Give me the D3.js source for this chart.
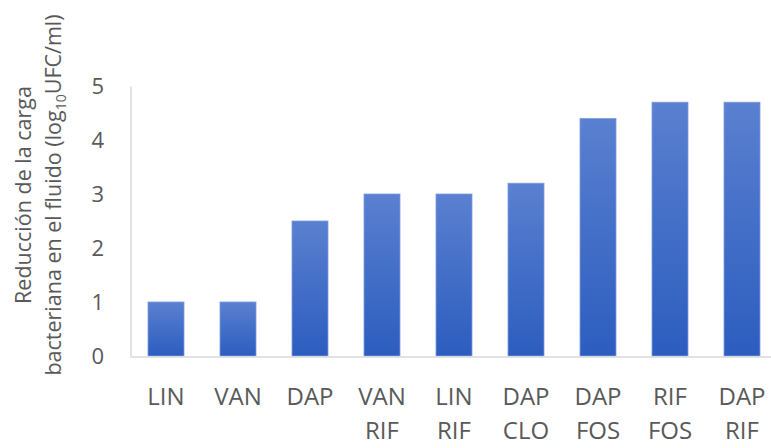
<!DOCTYPE html>
<html>
<head>
<meta charset="utf-8">
<script src="https://cdn.jsdelivr.net/npm/d3@7"></script>
<style>
  body { margin: 0; background: #fff; overflow: hidden; }
  svg { display: block; font-family: "Open Sans", sans-serif; }
  .axis text { fill: #595959; }
</style>
</head>
<body>
<svg id="chart" width="771" height="448"></svg>
<script>
// categories (two-line labels) and values
const categories = ["LIN", "VAN", "DAP", "VAN RIF", "LIN RIF", "DAP CLO", "DAP FOS", "RIF FOS", "DAP RIF"];
const values = [1.0, 1.0, 2.5, 3.0, 3.0, 3.2, 4.4, 4.7, 4.7];
const yTicks = [0, 1, 2, 3, 4, 5];
const titleLines = ["Reducción de la carga", "bacteriana en el fluido (log", "10", "UFC/ml)"];

const svg = d3.select("#chart");

const x = d3.scaleBand()
    .domain(categories)
    .range([130, 778])
    .paddingInner(0.5)
    .paddingOuter(0.25);

const y = d3.scaleLinear()
    .domain([0, 5])
    .range([356, 86]);

// bar gradient
const grad = svg.append("defs").append("linearGradient")
    .attr("id", "barGrad")
    .attr("x1", 0).attr("y1", 0).attr("x2", 0).attr("y2", 1);
grad.append("stop").attr("offset", "0%").attr("stop-color", "#5a80d0");
grad.append("stop").attr("offset", "100%").attr("stop-color", "#2c5dbf");

// bars
svg.selectAll(".bar")
    .data(categories)
    .join("rect")
    .attr("class", "bar")
    .attr("x", d => x(d))
    .attr("y", (d, i) => y(values[i]))
    .attr("width", x.bandwidth())
    .attr("height", (d, i) => y(0) - y(values[i]))
    .attr("fill", "url(#barGrad)")
    .attr("stroke", "#7d9ce0")
    .attr("stroke-width", 0.8);

// y axis
const yAxis = svg.append("g")
    .attr("class", "axis")
    .attr("transform", "translate(130.5,0)")
    .call(d3.axisLeft(y).tickValues(yTicks).tickFormat(d3.format("d"))
        .tickSize(0).tickSizeOuter(0).tickPadding(26.5));
yAxis.select(".domain").attr("stroke", "#d9d9d9").attr("stroke-width", 1.5);
yAxis.selectAll("text")
    .style("font-size", "22px")
    .style("font-family", "'Open Sans', sans-serif");

// x axis
const xAxis = svg.append("g")
    .attr("class", "axis")
    .attr("transform", "translate(0,356.5)")
    .call(d3.axisBottom(x).tickSize(0).tickSizeOuter(0));
xAxis.select(".domain").attr("stroke", "#d9d9d9").attr("stroke-width", 1.5);
xAxis.selectAll("text").each(function(d) {
    const t = d3.select(this);
    const parts = d.split(" ");
    t.text(null)
        .attr("y", 0)
        .attr("dy", null)
        .style("font-size", "24px")
        .style("font-family", "'Open Sans', sans-serif");
    parts.forEach((p, i) => {
        t.append("tspan")
            .attr("x", 0)
            .attr("y", 48 + i * 34)
            .text(p);
    });
});

// y title
const title = svg.append("text")
    .attr("transform", "translate(0,195) rotate(-90)")
    .attr("text-anchor", "middle")
    .attr("fill", "#595959")
    .style("font-size", "21.5px");
title.append("tspan").attr("x", 0).attr("y", 31).text(titleLines[0]);
const l2 = title.append("tspan").attr("x", 0).attr("y", 61);
l2.append("tspan").text(titleLines[1]);
l2.append("tspan").attr("dy", 5).style("font-size", "14px").text(titleLines[2]);
l2.append("tspan").attr("dy", -5).text(titleLines[3]);
</script>
</body>
</html>
